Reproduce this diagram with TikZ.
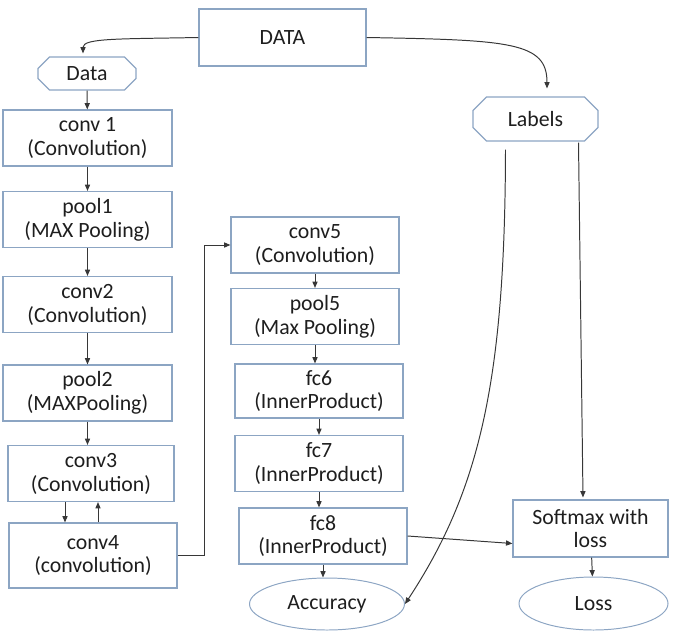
\documentclass[tikz,border=0pt]{standalone}
\usepackage{fontspec}
\setmainfont{Carlito}
\usetikzlibrary{arrows.meta,shapes.misc,shapes.geometric,calc}
\definecolor{boxblue}{RGB}{140,165,195}
\definecolor{linegray}{RGB}{55,55,55}
\definecolor{textgray}{RGB}{30,30,30}
\begin{document}
\begin{tikzpicture}[x=0.25mm,y=-0.25mm,
	every node/.style={text=textgray,font=\fontsize{15.5}{17}\selectfont,align=center,inner sep=1pt},
	layer/.style={rectangle,draw=boxblue,line width=0.8pt,minimum width=42.25mm,minimum height=14mm},
	blob/.style={chamfered rectangle,draw=boxblue,line width=0.8pt},
	outp/.style={ellipse,draw=boxblue,line width=0.7pt,inner sep=0pt},
	conn/.style={draw=linegray,line width=0.7pt,-{Triangle[length=1.6mm,width=1.3mm]}}]
\useasboundingbox (0,0) rectangle (673,630);

% input
\node[layer,minimum width=41.75mm,minimum height=14.25mm] (DATA) at (282.5,37.5) {DATA};
\node[blob,minimum width=24.5mm,minimum height=8.25mm,chamfered rectangle xsep=1.75mm] (data) at (87,73.5) {Data};
\node[blob,minimum width=31.25mm,minimum height=11mm,chamfered rectangle xsep=3mm] (labels) at (535.5,119) {Labels};

% left column
\node[layer] (conv1) at (87.5,138) {conv 1\\(Convolution)};
\node[layer] (pool1) at (87.5,219.5) {pool1\\(MAX Pooling)};
\node[layer] (conv2) at (87.5,304.5) {conv2\\(Convolution)};
\node[layer] (pool2) at (87.5,393) {pool2\\(MAXPooling)};
\node[layer,minimum width=41.5mm] (conv3) at (91,473.5) {conv3\\(Convolution)};
\node[layer,minimum width=42mm,minimum height=16.25mm] (conv4) at (93,555.5) {conv4\\(convolution)};

% right column
\node[layer,minimum width=42mm] (conv5) at (315,245) {conv5\\(Convolution)};
\node[layer,minimum width=42mm] (pool5) at (315,316.5) {pool5\\(Max Pooling)};
\node[layer,minimum width=42mm,minimum height=13.5mm] (fc6) at (319,391) {fc6\\(InnerProduct)};
\node[layer,minimum width=42mm] (fc7) at (319,463.5) {fc7\\(InnerProduct)};
\node[layer,minimum width=42mm] (fc8) at (323,536) {fc8\\(InnerProduct)};
\node[outp,minimum width=38.75mm,minimum height=13mm] (acc) at (327,604) {Accuracy};

% loss
\node[layer,minimum width=38.75mm,minimum height=14.25mm] (softmax) at (590.5,528.5) {Softmax with\\loss};
\node[outp,minimum width=37.25mm,minimum height=13.25mm] (loss) at (593.5,603.5) {Loss};

% split of the input
\draw[conn] (DATA.west) .. controls (120,39) and (83,38) .. ($(data.north)+(-4,-3)$);
\draw[conn] (DATA.east) .. controls (510,40) and (547,42) .. ($(labels.north)+(11.5,-8)$);

\draw[conn] (data) -- (conv1);
\draw[conn] (conv1) -- (pool1);
\draw[conn] (pool1) -- (conv2);
\draw[conn] (conv2) -- (pool2);
\draw[conn] (pool2.south) -- (pool2.south |- conv3.north);
\draw[conn] ($(conv3.south)+(-26,0)$) -- ($(conv4.north)+(-28,0)$);
\draw[conn] ($(conv4.north)+(5,0)$) -- ($(conv3.south)+(7,0)$);
\draw[conn] (conv4.east) -- ++(27,0) |- (conv5.west);

\draw[conn] (conv5) -- (pool5);
\draw[conn] (pool5.south) -- (pool5.south |- fc6.north);
\draw[conn] (fc6.south) -- (fc6.south |- fc7.north);
\draw[conn] (fc7.south) -- (fc7.south |- fc8.north);
\draw[conn] (fc8.south) -- (fc8.south |- acc.north);
\draw[conn] (fc8.east) -- ($(softmax.west)+(0,15)$);

\draw[conn] ($(labels.south)+(-30,8)$) .. controls (505,380) and (480,490) .. (acc.east);
\draw[conn] ($(labels.south)+(43,1)$) -- ($(softmax.north)+(-7.5,-2)$);
\draw[conn] (softmax) -- (loss);
\end{tikzpicture}
\end{document}
